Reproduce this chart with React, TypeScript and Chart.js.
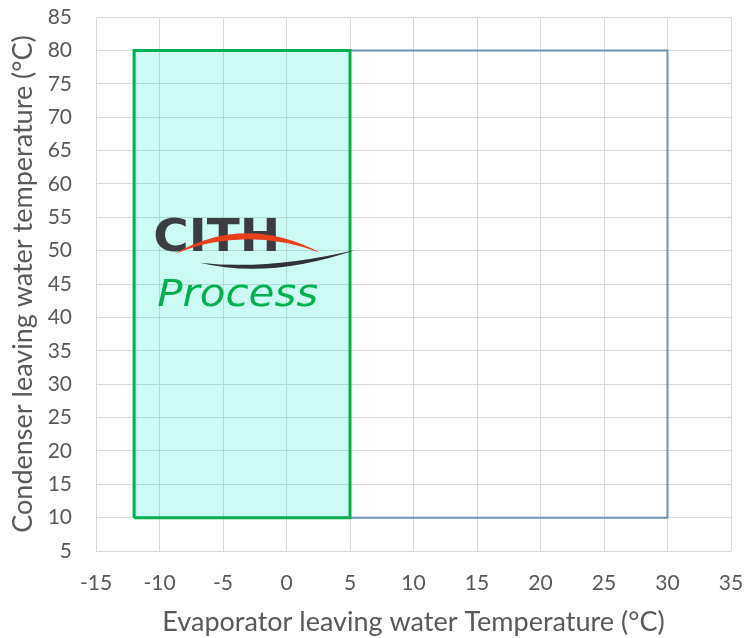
import React, { useEffect, useRef } from "react";
import { Chart, registerables } from "chart.js";

Chart.register(...registerables);

const xTicks = [-15, -10, -5, 0, 5, 10, 15, 20, 25, 30, 35];
const yTicks = [5, 10, 15, 20, 25, 30, 35, 40, 45, 50, 55, 60, 65, 70, 75, 80, 85];

// Operating envelope (evaporator °C, condenser °C)
const fullX = [-12, -12, 30, 30, -12];
const fullY = [10, 80, 80, 10, 10];
const processX = [-12, -12, 5, 5, -12];
const processY = [10, 80, 80, 10, 10];

const xTitle = "Evaporator leaving water Temperature (°C)";
const yTitle = "Condenser leaving water temperature (°C)";
const logoWord = "CITH";
const logoSub = "Process";
// logo anchor in data units
const logoAnchorX = -10.5;
const logoAnchorY = 50;

const FONT = "Lato, 'Open Sans', sans-serif";

const logoPlugin = {
  id: "logo",
  afterDatasetsDraw(chart: any) {
    const ctx = chart.ctx;
    const xs = chart.scales.x;
    const ys = chart.scales.y;
    const ax = xs.getPixelForValue(logoAnchorX);
    const ay = ys.getPixelForValue(logoAnchorY);
    ctx.save();
    // CITH
    ctx.fillStyle = "#3b3d40";
    ctx.font = `bold 44px 'DejaVu Sans', sans-serif`;
    ctx.textBaseline = "alphabetic";
    ctx.textAlign = "left";
    const w = ctx.measureText(logoWord).width;
    ctx.save();
    ctx.translate(ax, ay);
    ctx.scale(127 / w, 1);
    ctx.fillText(logoWord, 0, 0);
    ctx.restore();
    // red arc
    ctx.fillStyle = "#e8401c";
    ctx.beginPath();
    ctx.moveTo(ax + 22, ay + 3);
    ctx.quadraticCurveTo(ax + 92, ay - 37, ax + 167, ay + 2);
    ctx.quadraticCurveTo(ax + 92, ay - 25, ax + 22, ay + 3);
    ctx.closePath();
    ctx.fill();
    // dark swoosh
    ctx.fillStyle = "#2f3236";
    ctx.beginPath();
    ctx.moveTo(ax + 47, ay + 12);
    ctx.quadraticCurveTo(ax + 115, ay + 29, ax + 203, ay - 1);
    ctx.quadraticCurveTo(ax + 115, ay + 20, ax + 47, ay + 12);
    ctx.closePath();
    ctx.fill();
    // Process
    ctx.fillStyle = "#00b050";
    ctx.font = `italic 37px 'DejaVu Sans', sans-serif`;
    const w2 = ctx.measureText(logoSub).width;
    ctx.save();
    ctx.translate(ax + 4, ay + 55);
    ctx.scale(161 / w2, 1);
    ctx.fillText(logoSub, 0, 0);
    ctx.restore();
    ctx.restore();
  },
};

export default function App() {
  const ref = useRef<HTMLCanvasElement>(null);
  useEffect(() => {
    if (!ref.current) return;
    const toPts = (xa: number[], ya: number[]) => xa.map((x, i) => ({ x, y: ya[i] }));
    const chart = new Chart(ref.current, {
      type: "scatter",
      data: {
        datasets: [
          {
            label: "Process",
            data: toPts(processX, processY),
            showLine: true,
            borderColor: "#00b050",
            borderWidth: 3,
            backgroundColor: "rgba(0,235,205,0.2)",
            fill: "shape",
            pointRadius: 0,
            tension: 0,
          },
          {
            label: "Envelope",
            data: toPts(fullX, fullY),
            showLine: true,
            borderColor: "#6f93b8",
            borderWidth: 2,
            fill: false,
            pointRadius: 0,
            tension: 0,
          },
        ],
      },
      options: {
        animation: false,
        responsive: false,
        devicePixelRatio: 1,
        layout: { padding: { top: 17, right: 16, bottom: 0, left: 0 } },
        plugins: { legend: { display: false }, tooltip: { enabled: false } },
        scales: {
          x: {
            type: "linear",
            min: -15,
            max: 35,
            afterBuildTicks: (s: any) => {
              s.ticks = xTicks.map((v) => ({ value: v }));
            },
            afterFit: (s: any) => {
              s.height = 87;
              s.paddingLeft = 0;
              s.paddingRight = 0;
            },
            grid: { color: "#d9d9d9", lineWidth: 1, drawTicks: false },
            border: { display: false },
            ticks: {
              font: { family: FONT, size: 21 },
              color: "#595959",
              padding: 20,
              maxRotation: 0,
            },
            title: {
              display: true,
              text: xTitle,
              font: { family: FONT, size: 27 },
              color: "#595959",
              padding: { top: 6, bottom: 0 },
            },
          },
          y: {
            type: "linear",
            min: 5,
            max: 85,
            afterBuildTicks: (s: any) => {
              s.ticks = yTicks.map((v) => ({ value: v }));
            },
            afterFit: (s: any) => {
              s.width = 96;
              s.paddingTop = 0;
              s.paddingBottom = 0;
            },
            grid: { color: "#d9d9d9", lineWidth: 1, drawTicks: false },
            border: { display: false },
            ticks: {
              font: { family: FONT, size: 21 },
              color: "#595959",
              padding: 24,
            },
            title: {
              display: true,
              text: yTitle,
              font: { family: FONT, size: 27 },
              color: "#595959",
              padding: { top: 7, bottom: 0 },
            },
          },
        },
      },
      plugins: [logoPlugin],
    } as any);
    return () => chart.destroy();
  }, []);
  return (
    <canvas
      ref={ref}
      width={747}
      height={638}
      style={{ display: "block", position: "fixed", left: 0, top: 0 }}
    />
  );
}
